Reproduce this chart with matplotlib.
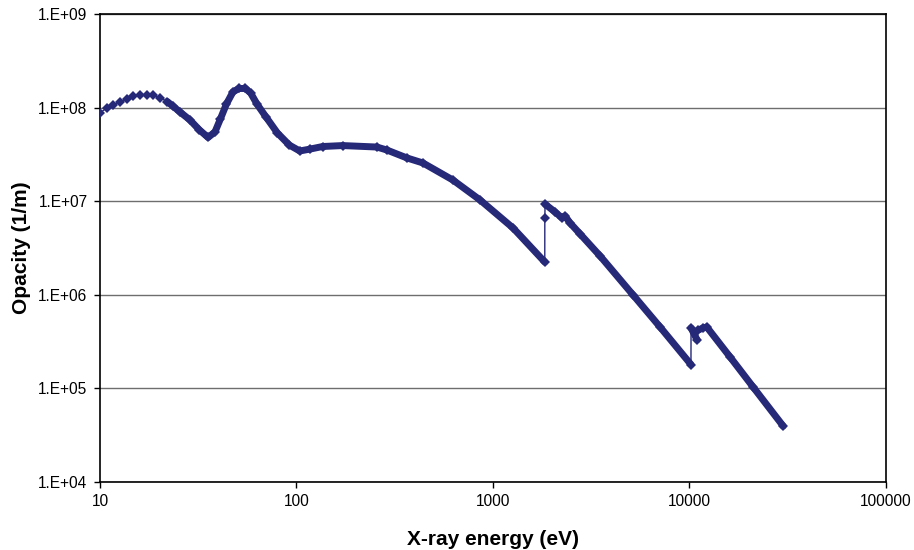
import numpy as np
import matplotlib
matplotlib.use("Agg")
import matplotlib.pyplot as plt
from matplotlib.ticker import FixedLocator, FixedFormatter, NullLocator

# ---- data (X-ray energy in eV, opacity in 1/m) ----
# segment below the first absorption edge
lo_energy = [10, 10.8, 11.7, 12.7, 13.7, 14.8, 16.0, 17.3, 18.7, 20.2,
             22.0, 23.6, 25.5, 28.7, 32, 35.5, 38.5, 41, 44, 47.5, 51, 55, 58.5,
             63, 70, 80, 92, 104, 117, 136, 172, 257, 289, 365, 441, 627,
             861, 1268, 1838]
lo_opacity = [8.75e7, 9.9e7, 1.07e8, 1.156e8, 1.236e8, 1.32e8, 1.36e8, 1.37e8, 1.35e8, 1.27e8,
              1.16e8, 1.03e8, 9.0e7, 7.38e7, 5.8e7, 4.8e7, 5.5e7, 7.55e7, 1.09e8, 1.47e8, 1.6e8, 1.6e8, 1.43e8,
              1.09e8, 7.94e7, 5.36e7, 3.98e7, 3.44e7, 3.6e7, 3.84e7, 3.93e7, 3.79e7, 3.52e7, 2.9e7, 2.56e7, 1.68e7,
              1.03e7, 5.17e6, 2.24e6]

# single point sitting on the first edge
edge_energy = [1839]
edge_opacity = [6.6e6]

# segment between first edge and second edge group
mid_energy = [1845, 2073, 2250, 2332, 2473, 2780, 3515, 5176, 7100, 10200]
mid_opacity = [9.3e6, 7.67e6, 6.62e6, 6.95e6, 5.85e6, 4.47e6, 2.6e6, 9.95e5, 4.53e5, 1.8e5]

# short piece between the two high-energy edges
gap_energy = [10210, 10960]
gap_opacity = [4.42e5, 3.3e5]

# segment above the last edge
hi_energy = [11100, 11750, 12280, 16150, 21130, 30060]
hi_opacity = [4.2e5, 4.42e5, 4.53e5, 2.16e5, 1.035e5, 3.96e4]

x_ticks = [10, 100, 1000, 10000, 100000]
x_tick_labels = ["10", "100", "1000", "10000", "100000"]
y_ticks = [1e4, 1e5, 1e6, 1e7, 1e8, 1e9]
y_tick_labels = ["1.E+04", "1.E+05", "1.E+06", "1.E+07", "1.E+08", "1.E+09"]

color = "#262878"
plt.rcParams["font.family"] = ["Liberation Sans", "DejaVu Sans"]

fig = plt.figure(figsize=(9.14, 5.5), dpi=100)
ax = fig.add_axes([100 / 914, 68 / 550, 785.7 / 914, 468 / 550])
ax.set_xscale("log")
ax.set_yscale("log")

all_e = np.array(lo_energy + edge_energy + mid_energy + gap_energy + hi_energy)
all_v = np.array(lo_opacity + edge_opacity + mid_opacity + gap_opacity + hi_opacity)

# thin connecting line with diamond markers at each point
ax.plot(all_e, all_v, color=color, lw=1.0, marker="D", markersize=5.0,
        markeredgewidth=0, zorder=3)

# dense-marker band for each continuous segment
lo_e = np.array(lo_energy)
lo_v = np.array(lo_opacity)
mask = lo_e >= 21
band = dict(color=color, lw=5.0, solid_capstyle="round", solid_joinstyle="round", zorder=3)
ax.plot(lo_e[mask], lo_v[mask], **band)
ax.plot(mid_energy, mid_opacity, **band)
ax.plot(gap_energy, gap_opacity, **band)
ax.plot(hi_energy, hi_opacity, **band)

ax.set_xlim(10, 100000)
ax.set_ylim(1e4, 1e9)
ax.xaxis.set_major_locator(FixedLocator(x_ticks))
ax.xaxis.set_major_formatter(FixedFormatter(x_tick_labels))
ax.xaxis.set_minor_locator(NullLocator())
ax.yaxis.set_major_locator(FixedLocator(y_ticks))
ax.yaxis.set_major_formatter(FixedFormatter(y_tick_labels))
ax.yaxis.set_minor_locator(NullLocator())

ax.grid(axis="y", which="major", color="#6e6e6e", lw=1.0, zorder=1)
ax.set_axisbelow(True)
for s in ax.spines.values():
    s.set_color("black")
    s.set_linewidth(1.2)
ax.tick_params(axis="both", direction="out", length=4, width=1.0, labelsize=11.2,
               colors="black", pad=5)

ax.set_xlabel("X-ray energy (eV)", fontsize=15, fontweight="bold", labelpad=15)
ax.set_ylabel("Opacity (1/m)", fontsize=15, fontweight="bold", labelpad=5)

fig.savefig("out.png", dpi=100)
